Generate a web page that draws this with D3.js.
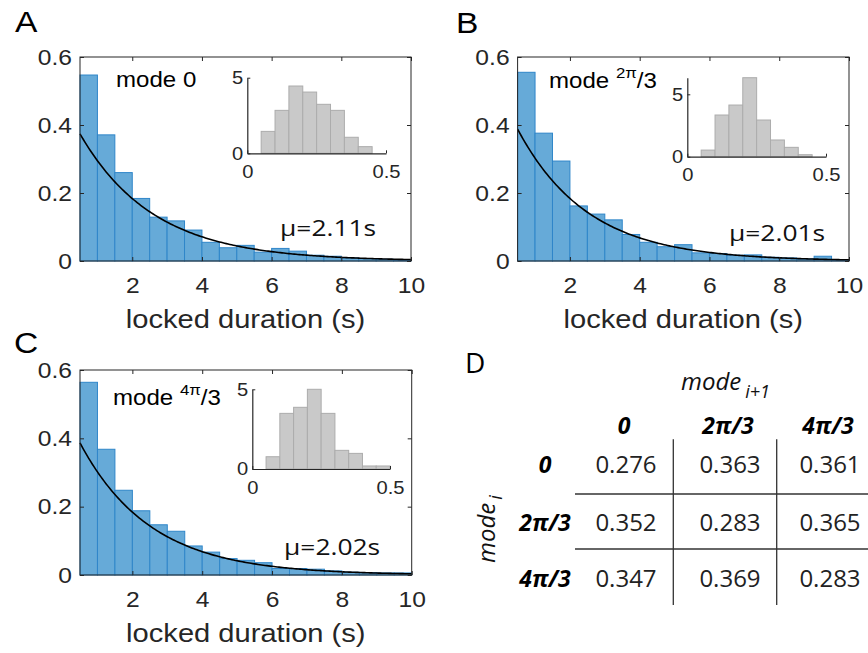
<!DOCTYPE html>
<html><head><meta charset="utf-8">
<script src="https://cdn.jsdelivr.net/npm/d3@7"></script>
<style>
html,body{margin:0;padding:0;background:#fff;}
svg{display:block;}
</style></head>
<body>
<svg id="fig" width="868" height="653"></svg>
<script>
// ---------------- DATA ----------------
const durationBins = [0.5,1,1.5,2,2.5,3,3.5,4,4.5,5,5.5,6,6.5,7,7.5,8,8.5,9,9.5];
const durationBinWidth = 0.5;
const histMode0   = [0.547,0.371,0.260,0.184,0.129,0.118,0.091,0.055,0.039,0.046,0.026,0.037,0.029,0.017,0.014,0.009,0.007,0.005,0.003];
const histMode2pi = [0.555,0.376,0.294,0.162,0.138,0.121,0.078,0.055,0.042,0.048,0.024,0.022,0.017,0.018,0.011,0.009,0.006,0.014,0.002];
const histMode4pi = [0.564,0.368,0.248,0.188,0.147,0.128,0.085,0.067,0.048,0.043,0.036,0.019,0.019,0.017,0.012,0.008,0.007,0.006,0.006];
const muValues = [2.11, 2.01, 2.02];
const mainXTicks = [2,4,6,8,10];
const mainYTicks = [0,0.2,0.4,0.6];

const insetBins = [0.05,0.1,0.15,0.2,0.25,0.3,0.35,0.4,0.45];
const insetBinWidth = 0.05;
const insetMode0   = [1.45,2.84,4.45,4.05,3.24,2.84,1.06,0.44];
const insetMode2pi = [0.53,3.34,4.14,6.33,2.94,1.34,0.75,0.16];
const insetMode4pi = [0.77,3.49,3.87,5.0,3.49,1.17,0.98,0.19,0.19];
const insetYMax = [5, 6.33, 5];
const insetXTicks = [0, 0.5];
const insetYTicks = [0, 5];

const modeLabels = ["0", "2π/3", "4π/3"];
const transitionMatrix = [
  [0.276, 0.363, 0.361],
  [0.352, 0.283, 0.365],
  [0.347, 0.369, 0.283]
];

// ---------------- LAYOUT ----------------
const SX = 1.12;
const HELV = "'Liberation Sans', Arial, Helvetica, sans-serif";
const OPEN = "'Open Sans', 'Segoe UI', sans-serif";
const AX = "#262626";

const panels = [
  {letter:"A", hist:histMode0, mu:muValues[0], inset:insetMode0, insetMax:insetYMax[0],
   box:{l:80, t:57, w:331, h:204}, letterPos:[15,32], modePos:[36,30], muPos:[200,179.5],
   insetBox:{l:167.3, t:20.7, w:138.7, h:75.6}},
  {letter:"B", hist:histMode2pi, mu:muValues[1], inset:insetMode2pi, insetMax:insetYMax[1],
   box:{l:517.6, t:57, w:331.4, h:204}, letterPos:[456,33], modePos:[31.4,31], muPos:[211.4,183.7],
   insetBox:{l:169.7, t:20.7, w:138.7, h:79}},
  {letter:"C", hist:histMode4pi, mu:muValues[2], inset:insetMode4pi, insetMax:insetYMax[2],
   box:{l:80, t:370, w:331.7, h:205}, letterPos:[14,353], modePos:[33,35], muPos:[204,185],
   insetBox:{l:172.3, t:19.3, w:137.7, h:79.7}}
];

function stretch(sel, sx) {
  sel.each(function() {
    const t = d3.select(this);
    const x = +t.attr("x") || 0, y = +t.attr("y") || 0;
    t.attr("transform", `translate(${x},${y}) scale(${sx},1) translate(${-x},${-y})`);
  });
}

const svg = d3.select("#fig");

panels.forEach((p, pi) => {
  const {l, t, w, h} = p.box;
  svg.append("text").attr("x", p.letterPos[0]).attr("y", p.letterPos[1])
    .attr("font-family", HELV).attr("font-size", 30).attr("fill", "#000")
    .text(p.letter).call(stretch, SX);

  const g = svg.append("g").attr("transform", `translate(${l},${t})`);
  const x = d3.scaleLinear().domain([0.5, 10]).range([0, w]);
  const y = d3.scaleLinear().domain([0, 0.6]).range([h, 0]);

  g.selectAll("rect.bar").data(p.hist).join("rect").attr("class","bar")
    .attr("x", (d,i) => x(durationBins[i]))
    .attr("width", (d,i) => x(durationBins[i] + durationBinWidth) - x(durationBins[i]))
    .attr("y", d => y(d)).attr("height", d => y(0) - y(d))
    .attr("fill", "#66aad8").attr("stroke", "#2f86c9").attr("stroke-width", 1);

  const pts = d3.range(0.5, 10.0001, 0.05);
  g.append("path").datum(pts)
    .attr("d", d3.line().x(d => x(d)).y(d => y(Math.exp(-d / p.mu) / p.mu)))
    .attr("fill", "none").attr("stroke", "#000").attr("stroke-width", 1.6);

  const xb = g.append("g").attr("transform", `translate(0,${h})`)
    .call(d3.axisBottom(x).tickValues(mainXTicks).tickSize(-4).tickSizeOuter(0).tickPadding(16).tickFormat(d3.format("d")));
  const yl = g.append("g")
    .call(d3.axisLeft(y).tickValues(mainYTicks).tickSize(-4).tickSizeOuter(0).tickPadding(8)
      .tickFormat(d => d === 0 ? "0" : d3.format(".1f")(d)));
  g.append("g").call(d3.axisTop(x).tickValues(mainXTicks).tickSize(-4).tickSizeOuter(0).tickFormat(""));
  g.append("g").attr("transform", `translate(${w},0)`)
    .call(d3.axisRight(y).tickValues(mainYTicks).tickSize(-4).tickSizeOuter(0).tickFormat(""));
  g.selectAll(".domain").remove();
  g.selectAll(".tick line").attr("stroke", AX);
  [xb, yl].forEach(a => a.selectAll("text").attr("font-family", HELV).attr("font-size", 22).attr("fill", AX).call(stretch, SX));
  g.append("rect").attr("x", 0).attr("y", 0).attr("width", w).attr("height", h)
    .attr("fill", "none").attr("stroke", AX).attr("stroke-width", 1);

  g.append("text").attr("x", w / 2).attr("y", h + 67).attr("text-anchor", "middle")
    .attr("font-family", HELV).attr("font-size", 26).attr("fill", AX)
    .text("locked duration (s)").call(stretch, SX);

  const ml = g.append("text").attr("x", p.modePos[0]).attr("y", p.modePos[1])
    .attr("font-family", HELV).attr("font-size", 21.5).attr("fill", "#000");
  if (modeLabels[pi] === "0") {
    ml.text("mode 0");
  } else {
    const parts = modeLabels[pi].split("/");
    ml.append("tspan").text("mode ");
    ml.append("tspan").attr("font-size", 15).attr("dy", -10).text(parts[0]);
    ml.append("tspan").attr("dy", 10).text("/" + parts[1]);
  }
  ml.call(stretch, SX);

  g.append("text").attr("x", p.muPos[0]).attr("y", p.muPos[1])
    .attr("font-family", OPEN).attr("font-size", 22).attr("fill", "#111")
    .text("μ=" + d3.format(".2f")(p.mu) + "s").call(stretch, 1.2);

  const ib = p.insetBox;
  const ig = g.append("g").attr("transform", `translate(${ib.l},${ib.t})`);
  const ix = d3.scaleLinear().domain([0, 0.5]).range([0, ib.w]);
  const iy = d3.scaleLinear().domain([0, p.insetMax]).range([ib.h, 0]);
  ig.selectAll("rect").data(p.inset).join("rect")
    .attr("x", (d,i) => ix(insetBins[i]))
    .attr("width", (d,i) => ix(insetBins[i] + insetBinWidth) - ix(insetBins[i]))
    .attr("y", d => iy(d)).attr("height", d => iy(0) - iy(d))
    .attr("fill", "#c9c9c9").attr("stroke", "#acacac").attr("stroke-width", 1);
  const ixa = ig.append("g").attr("transform", `translate(0,${ib.h})`)
    .call(d3.axisBottom(ix).tickValues(insetXTicks).tickSize(-3).tickSizeOuter(0).tickPadding(12)
      .tickFormat(d => d === 0 ? "0" : d3.format(".1f")(d)));
  const iya = ig.append("g")
    .call(d3.axisLeft(iy).tickValues(insetYTicks).tickSize(-3).tickSizeOuter(0).tickPadding(4).tickFormat(d3.format("d")));
  [ixa, iya].forEach(a => {
    a.select(".domain").attr("stroke", AX).attr("stroke-width", 1.2);
    a.selectAll(".tick line").attr("stroke", AX);
    a.selectAll("text").attr("font-family", HELV).attr("font-size", 18).attr("fill", AX).call(stretch, SX);
  });
});

// ---------------- TABLE D ----------------
svg.append("text").attr("x", 465).attr("y", 373).attr("font-family", OPEN)
  .attr("font-size", 28).attr("fill", "#000").text("D");

const colX = [624, 728, 828];
const rowY = [473, 530.5, 587];
const rowHeadX = 545;
const headY = 433.5;

const topLabel = svg.append("text").attr("x", 681).attr("y", 390)
  .attr("font-family", OPEN).attr("font-style", "italic").attr("font-size", 24).attr("fill", "#111");
topLabel.append("tspan").text("mode");
topLabel.append("tspan").attr("dx", 4).attr("dy", 8).attr("font-size", 18).text("i+1");

const sideLabel = svg.append("text").attr("transform", "translate(495,563) rotate(-90)")
  .attr("font-family", OPEN).attr("font-style", "italic").attr("font-size", 24).attr("fill", "#111");
sideLabel.append("tspan").text("mode");
sideLabel.append("tspan").attr("dx", 3).attr("dy", 7).attr("font-size", 18).text("i");

svg.selectAll("text.colh").data(modeLabels).join("text").attr("class", "colh")
  .attr("x", (d,i) => colX[i]).attr("y", headY).attr("text-anchor", "middle")
  .attr("font-family", OPEN).attr("font-style", "italic").attr("font-weight", "bold")
  .attr("font-size", 23).attr("fill", "#000").text(d => d);
svg.selectAll("text.rowh").data(modeLabels).join("text").attr("class", "rowh")
  .attr("x", rowHeadX).attr("y", (d,i) => rowY[i]).attr("text-anchor", "middle")
  .attr("font-family", OPEN).attr("font-style", "italic").attr("font-weight", "bold")
  .attr("font-size", 23).attr("fill", "#000").text(d => d);

transitionMatrix.forEach((row, r) => {
  row.forEach((v, c) => {
    svg.append("text").attr("x", colX[c] + 2).attr("y", rowY[r]).attr("text-anchor", "middle")
      .attr("font-family", OPEN).attr("font-size", 24).attr("fill", "#222")
      .text(d3.format(".3f")(v));
  });
});

const lineCol = "#333";
[673.3, 776.7].forEach(xv => svg.append("line").attr("x1", xv).attr("x2", xv)
  .attr("y1", 439.3).attr("y2", 605).attr("stroke", lineCol).attr("stroke-width", 1.3));
[494, 549].forEach(yv => svg.append("line").attr("x1", 575).attr("x2", 868)
  .attr("y1", yv).attr("y2", yv).attr("stroke", lineCol).attr("stroke-width", 1.3));
</script>
</body></html>
